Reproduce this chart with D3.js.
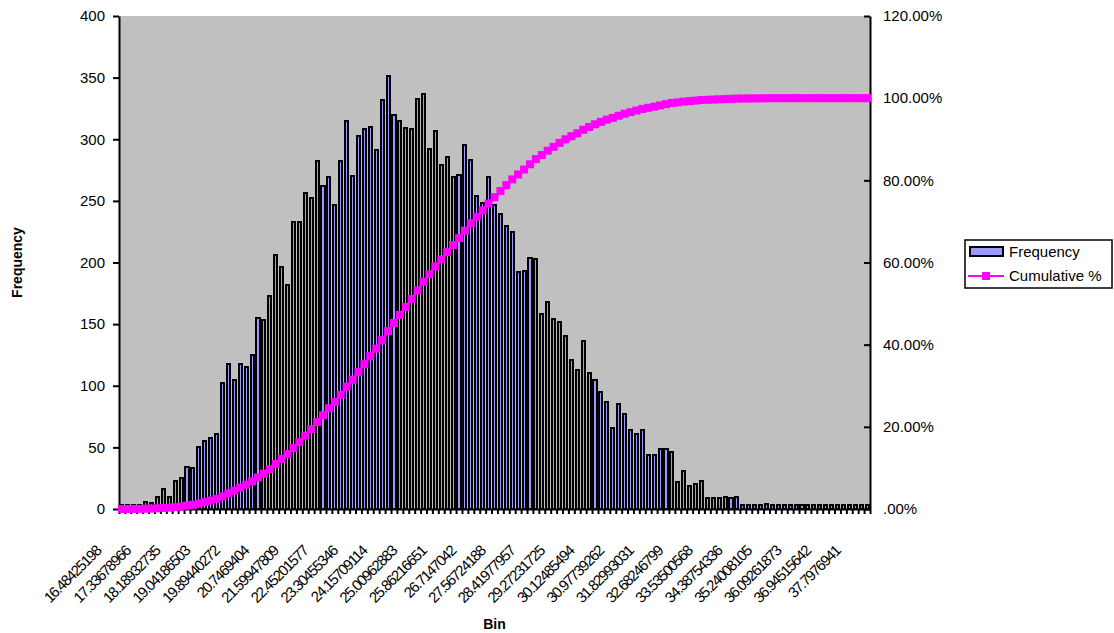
<!DOCTYPE html>
<html>
<head>
<meta charset="utf-8">
<title>Frequency / Cumulative %</title>
<script src="https://d3js.org/d3.v7.min.js"></script>
<style>
body { margin:0; background:#fff; }
text { font-family: "Liberation Sans", Arial, Helvetica, sans-serif; }
</style>
</head>
<body>
<svg id="chart" width="1114" height="633"></svg>
<script>
// frequency per bin (127 bins)
var freq = [1,1,2,1,6,5,10,16,10,23,25,34,33,50,55,58,61,102,118,105,
  118,115,125,155,153,173,206,196,182,233,233,256,252,282,262,269,247,282,315,270,
  303,308,310,291,332,351,320,315,309,308,333,337,292,307,279,286,269,271,295,283,
  254,248,269,247,239,230,225,192,193,204,203,158,168,154,152,140,121,113,136,110,
  105,95,87,66,85,77,64,61,64,44,44,49,49,46,22,31,19,20,23,9,
  9,9,10,9,10,3,2,2,1,4,3,1,0,0,0,0,0,0,0,0,
  0,0,0,0,0,0,0];
// only every 5th bin is labelled
var binLabels = ['16.48425198','17.33678966','18.18932735','19.04186503','19.89440272',
  '20.7469404','21.59947809','22.45201577','23.30455346','24.15709114','25.00962883',
  '25.86216651','26.7147042','27.56724188','28.41977957','29.27231725','30.12485494',
  '30.97739262','31.82993031','32.68246799','33.53500568','34.38754336','35.24008105',
  '36.09261873','36.94515642','37.7976941'];
var labelEvery = 5;
var freqTicks = [0,50,100,150,200,250,300,350,400];
var pctTicks = [0,0.2,0.4,0.6,0.8,1.0,1.2];

var L=119, R=870, T=16, B=509;
var svg = d3.select('#chart');

var total = d3.sum(freq);
var cum = Array.from(d3.cumsum(freq), function(c){ return c/total; });

var xb = d3.scaleBand().domain(d3.range(freq.length)).range([L,R]).padding(0);
var xs = d3.scaleLinear().domain([0,freq.length]).range([L,R]);
var yL = d3.scaleLinear().domain([0,400]).range([B,T]);
var yR = d3.scaleLinear().domain([0,1.2]).range([B,T]);
var mid = function(i){ return xb(i)+xb.bandwidth()/2; };

// plot area
svg.append('rect').attr('x',L).attr('y',T).attr('width',R-L).attr('height',B-T)
  .attr('fill','#C0C0C0');

// bars - narrow, so the black border eats most of the blue fill
var bw = xb.bandwidth()*0.52, minH = 4;
var barTop = function(d){ return Math.min(yL(d), yL(0)-minH); };
svg.append('g').selectAll('rect').data(freq).join('rect')
  .attr('x',function(d,i){ return xb(i)+(xb.bandwidth()-bw)/2; })
  .attr('y',barTop)
  .attr('width',bw)
  .attr('height',function(d){ return yL(0)-barTop(d); })
  .attr('fill','#9999FF').attr('stroke','#000').attr('stroke-width',2)
  .attr('shape-rendering','crispEdges');

function style(g, fs){
  g.select('.domain').attr('stroke','#000').attr('stroke-width',2);
  g.selectAll('.tick line').attr('stroke','#000').attr('stroke-width',2);
  g.selectAll('text').attr('fill','#000').attr('font-size',fs)
    .attr('font-family','"Liberation Sans", Arial, sans-serif');
}

// left axis
svg.append('g').attr('transform','translate('+L+',0)')
  .call(d3.axisLeft(yL).tickValues(freqTicks).tickSize(6).tickSizeOuter(0).tickPadding(8))
  .call(style, 15);

// right axis
var pctFmt = function(d){ return d===0 ? '.00%' : d3.format('.2f')(d*100)+'%'; };
svg.append('g').attr('transform','translate('+R+',0)')
  .call(d3.axisRight(yR).tickValues(pctTicks).tickFormat(pctFmt).tickSize(-6).tickSizeOuter(0).tickPadding(13))
  .call(style, 15);

// bottom axis, ticks between categories
svg.append('g').attr('transform','translate(0,'+B+')')
  .call(d3.axisBottom(xs).tickValues(d3.range(freq.length+1)).tickFormat('').tickSize(5).tickSizeOuter(0))
  .call(style, 12);

// rotated bin labels
svg.append('g').selectAll('text').data(binLabels).join('text')
  .attr('transform',function(d,j){ return 'translate('+(mid(j*labelEvery)-20)+',552) rotate(-45)'; })
  .attr('text-anchor','end')
  .attr('font-size',15).attr('letter-spacing','-1.3px')
  .text(function(d){ return d; });

// cumulative % line with square markers
var line = d3.line().x(function(d,i){ return mid(i); }).y(function(d){ return yR(d); });
svg.append('path').datum(cum).attr('d',line)
  .attr('fill','none').attr('stroke','#FF00FF').attr('stroke-width',2.5);
svg.append('g').selectAll('rect').data(cum).join('rect')
  .attr('x',function(d,i){ return mid(i)-4; })
  .attr('y',function(d){ return yR(d)-4; })
  .attr('width',8).attr('height',8).attr('fill','#FF00FF');

// axis titles
svg.append('text').attr('transform','translate(22,'+((T+B)/2)+') rotate(-90)')
  .attr('text-anchor','middle').attr('font-weight','bold').attr('font-size',14)
  .text('Frequency');
svg.append('text').attr('x',(L+R)/2).attr('y',629)
  .attr('text-anchor','middle').attr('font-weight','bold').attr('font-size',14)
  .text('Bin');

// legend
var lg = svg.append('g').attr('transform','translate(965,240)');
lg.append('rect').attr('x',0).attr('y',0).attr('width',147).attr('height',48)
  .attr('fill','#fff').attr('stroke','#000').attr('stroke-width',1.5);
lg.append('rect').attr('x',5).attr('y',7).attr('width',33).attr('height',9)
  .attr('fill','#9999FF').attr('stroke','#000').attr('stroke-width',2);
lg.append('line').attr('x1',3).attr('x2',39).attr('y1',36).attr('y2',36)
  .attr('stroke','#FF00FF').attr('stroke-width',2);
lg.append('rect').attr('x',17).attr('y',32).attr('width',8).attr('height',8).attr('fill','#FF00FF');
lg.append('text').attr('x',44).attr('y',17).attr('font-size',15).text('Frequency');
lg.append('text').attr('x',44).attr('y',41).attr('font-size',15).text('Cumulative %');
</script>
</body>
</html>
